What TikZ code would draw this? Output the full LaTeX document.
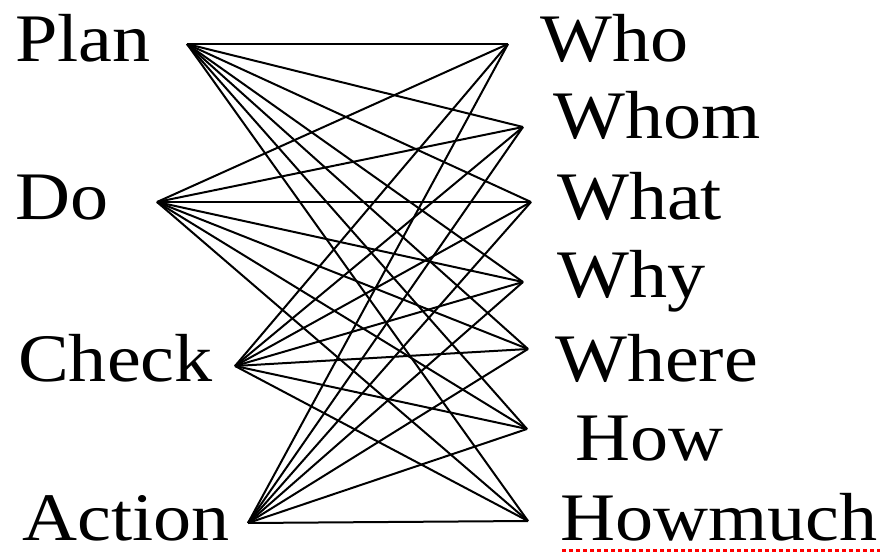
\documentclass[tikz,border=0pt]{standalone}
\usepackage{fontspec}
\setmainfont[FakeStretch=1.12]{Liberation Serif}
\begin{document}
\begin{tikzpicture}[x=1pt,y=-1pt,
  lbl/.style={anchor=base west,inner sep=0pt,font=\fontsize{68}{68}\selectfont},
  pt/.style={coordinate},
  link/.style={line width=2pt,black}]
\useasboundingbox (0,0) rectangle (883,553);
% left labels
\node[lbl] (tplan) at (15,62) {Plan};
\node[lbl] (tdo) at (15,220) {Do};
\node[lbl] (tcheck) at (18,381) {Check};
\node[lbl] (taction) at (22,540) {Action};
% right labels
\node[lbl] (twho) at (540,62) {Who};
\node[lbl] (twhom) at (553,139) {Whom};
\node[lbl] (twhat) at (557,220) {What};
\node[lbl] (twhy) at (557,298) {Why};
\node[lbl] (twhere) at (555,381) {Where};
\node[lbl] (thow) at (575,460) {How};
\node[lbl] (thowmuch) at (560,540) {Howmuch};
% junction points
\node[pt] (plan) at (187,44) {};
\node[pt] (do) at (157,202) {};
\node[pt] (check) at (235,366) {};
\node[pt] (action) at (248,523) {};
\node[pt] (who) at (508,44) {};
\node[pt] (whom) at (523,127) {};
\node[pt] (what) at (531,202) {};
\node[pt] (why) at (523,282) {};
\node[pt] (where) at (528,349) {};
\node[pt] (how) at (527,429) {};
\node[pt] (howmuch) at (528,521) {};
\foreach \l in {plan,do,check,action}
  \foreach \r in {who,whom,what,why,where,how,howmuch}
    \draw[link] (\l) -- (\r);
% spell-check underline
\coordinate (ul1) at (562,550);
\coordinate (ul2) at (880,550);
\draw[red,line width=3pt,dash pattern=on 4pt off 3pt] (ul1) -- (ul2);
\end{tikzpicture}
\end{document}
